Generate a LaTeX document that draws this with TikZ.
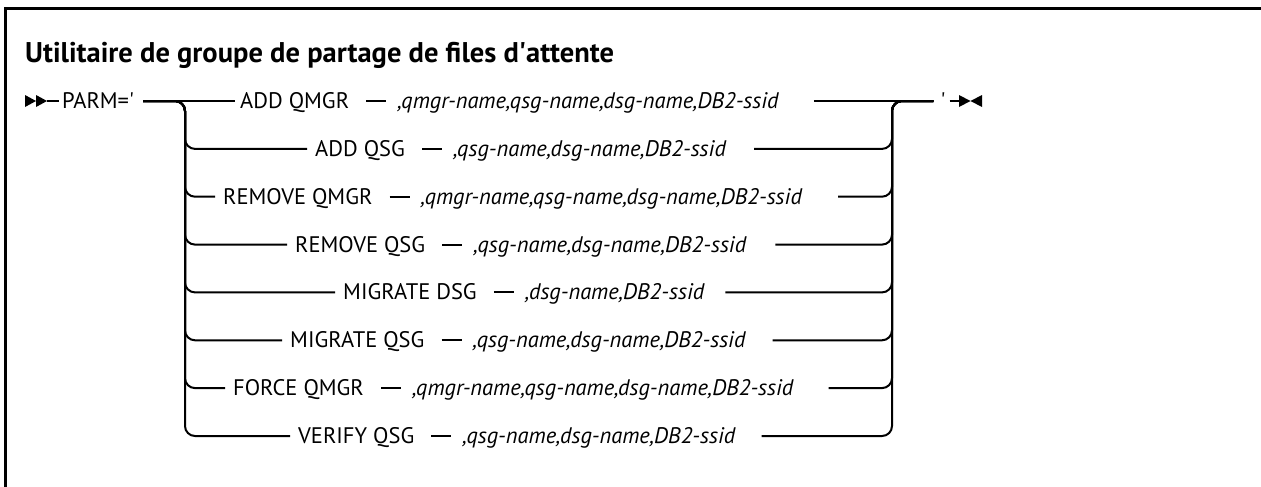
\documentclass[tikz,border=0pt]{standalone}
\usepackage{fontspec}
\setmainfont{PT Sans}
\usetikzlibrary{positioning}

\begin{document}
\begin{tikzpicture}[
  x=1pt,y=-1pt,
  rail/.style={line width=2pt},
  branch/.style={rail, rounded corners=10pt},
  kw/.style={font=\fontsize{22.5}{27}\selectfont, inner sep=0pt, text height=20pt, text depth=5pt},
  arg/.style={kw, font=\fontsize{22.5}{27}\selectfont\itshape},
  link/.style={rail, shorten <=17pt, shorten >=11pt}
]
\useasboundingbox (0,0) rectangle (1261,487);
\draw[line width=3pt] (5,487) -- (5,9) -- (1261,9);
\node[anchor=base west, inner sep=0pt, font=\fontsize{28.5}{34}\selectfont\bfseries] (title) at (25,63) {Utilitaire de groupe de partage de files d\textquotesingle attente};

\coordinate (start) at (47,101);
\coordinate (lj) at (185,101);
\coordinate (rj) at (892,101);
\coordinate (stop) at (959,101);
\fill (25,95) -- (36,101) -- (25,107) -- cycle;
\fill (36,95) -- (47,101) -- (36,107) -- cycle;
\fill (959,95) -- (970.5,101) -- (959,107) -- cycle;
\fill (982,95) -- (970.5,101) -- (982,107) -- cycle;
\node[kw, anchor=west] (parm) at (62,101) {PARM=\textquotesingle};
\node[kw] (quote) at (943,101) {\textquotesingle};

\node[kw, anchor=west] (k1) at (240,101) {ADD QMGR};
\node[arg, right=48pt of k1] (a1) {,qmgr-name,qsg-name,dsg-name,DB2-ssid};
\node[kw, anchor=west] (k2) at (315,148.9) {ADD QSG};
\node[arg, right=48pt of k2] (a2) {,qsg-name,dsg-name,DB2-ssid};
\node[kw, anchor=west] (k3) at (223,196.7) {REMOVE QMGR};
\node[arg, right=48pt of k3] (a3) {,qmgr-name,qsg-name,dsg-name,DB2-ssid};
\node[kw, anchor=west] (k4) at (295,244.6) {REMOVE QSG};
\node[arg, right=48pt of k4] (a4) {,qsg-name,dsg-name,DB2-ssid};
\node[kw, anchor=west] (k5) at (343,292.4) {MIGRATE DSG};
\node[arg, right=48pt of k5] (a5) {,dsg-name,DB2-ssid};
\node[kw, anchor=west] (k6) at (290,340.3) {MIGRATE QSG};
\node[arg, right=48pt of k6] (a6) {,qsg-name,dsg-name,DB2-ssid};
\node[kw, anchor=west] (k7) at (233,388.1) {FORCE QMGR};
\node[arg, right=48pt of k7] (a7) {,qmgr-name,qsg-name,dsg-name,DB2-ssid};
\node[kw, anchor=west] (k8) at (298,436) {VERIFY QSG};
\node[arg, right=48pt of k8] (a8) {,qsg-name,dsg-name,DB2-ssid};

\draw[rail, shorten >=3pt] (start) -- (parm);
\draw[rail, shorten <=9pt, shorten >=5pt] (parm) -- (k1);
\draw[rail, shorten <=35pt, shorten >=7pt] (a1) -- (quote);
\draw[rail, shorten <=4pt] (quote) -- (stop);
\draw[branch, shorten <=9pt, shorten >=8pt] (parm) -- (lj) |- (k2);
\draw[branch, shorten <=9pt, shorten >=8pt] (parm) -- (lj) |- (k3);
\draw[branch, shorten <=9pt, shorten >=8pt] (parm) -- (lj) |- (k4);
\draw[branch, shorten <=9pt, shorten >=8pt] (parm) -- (lj) |- (k5);
\draw[branch, shorten <=9pt, shorten >=8pt] (parm) -- (lj) |- (k6);
\draw[branch, shorten <=9pt, shorten >=8pt] (parm) -- (lj) |- (k7);
\draw[branch, shorten <=9pt, shorten >=8pt] (parm) -- (lj) |- (k8);
\draw[branch, shorten >=7pt] ([xshift=28pt]a2.east) -| (rj) -- (quote);
\draw[branch, shorten >=7pt] ([xshift=36pt]a3.east) -| (rj) -- (quote);
\draw[branch, shorten >=7pt] ([xshift=29pt]a4.east) -| (rj) -- (quote);
\draw[branch, shorten >=7pt] ([xshift=21pt]a5.east) -| (rj) -- (quote);
\draw[branch, shorten >=7pt] ([xshift=27pt]a6.east) -| (rj) -- (quote);
\draw[branch, shorten >=7pt] ([xshift=35pt]a7.east) -| (rj) -- (quote);
\draw[branch, shorten >=7pt] ([xshift=26pt]a8.east) -| (rj) -- (quote);
\draw[link] (k1) -- (a1);
\draw[link] (k2) -- (a2);
\draw[link] (k3) -- (a3);
\draw[link] (k4) -- (a4);
\draw[link] (k5) -- (a5);
\draw[link] (k6) -- (a6);
\draw[link] (k7) -- (a7);
\draw[link] (k8) -- (a8);
\end{tikzpicture}
\end{document}
